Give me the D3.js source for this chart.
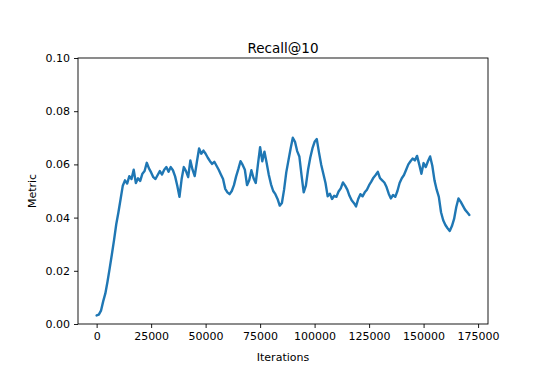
<!DOCTYPE html>
<html lang="en">

<head>
  <meta charset="UTF-8">
  <title>Recall@10</title>
  <script src="https://cdnjs.cloudflare.com/ajax/libs/d3/7.8.5/d3.min.js"></script>
  <style type="text/css">
    body {
      margin: 0;
      background: white;
    }

    text {
      font-family: "DejaVu Sans", sans-serif;
      fill: #000;
    }
  </style>
</head>

<body>
  <script type="text/javascript">
    // data: metric logged every 1000 iterations
    var step = 1000
    var metric = [
      0.0032, 0.0035, 0.0050, 0.0085, 0.0115, 0.0160, 0.0210, 0.0262, 0.0316, 0.0375,
      0.0420, 0.0470, 0.0520, 0.0540, 0.0528, 0.0556, 0.0545, 0.0580, 0.0530, 0.0548,
      0.0538, 0.0565, 0.0575, 0.0606, 0.0585, 0.0570, 0.0552, 0.0545, 0.0560, 0.0575,
      0.0562, 0.0580, 0.0590, 0.0572, 0.0590, 0.0578, 0.0555, 0.0520, 0.0478, 0.0545,
      0.0590, 0.0575, 0.0552, 0.0615, 0.0580, 0.0556, 0.0610, 0.0660, 0.0640, 0.0652,
      0.0640, 0.0625, 0.0612, 0.0602, 0.0610, 0.0595, 0.0580, 0.0562, 0.0545, 0.0508,
      0.0495, 0.0488, 0.0500, 0.0522, 0.0555, 0.0582, 0.0612, 0.0598, 0.0580, 0.0522,
      0.0540, 0.0578, 0.0548, 0.0530, 0.0600, 0.0665, 0.0612, 0.0648, 0.0605, 0.0560,
      0.0525, 0.0500, 0.0488, 0.0470, 0.0445, 0.0455, 0.0505, 0.0570, 0.0615, 0.0660,
      0.0700, 0.0685, 0.0650, 0.0630, 0.0560, 0.0495, 0.0520, 0.0580, 0.0625, 0.0660,
      0.0685, 0.0695, 0.0645, 0.0600, 0.0565, 0.0530, 0.0480, 0.0490, 0.0470, 0.0482,
      0.0478, 0.0498, 0.0510, 0.0532, 0.0520, 0.0505, 0.0482, 0.0465, 0.0455, 0.0442,
      0.0470, 0.0488, 0.0480, 0.0495, 0.0505, 0.0522, 0.0535, 0.0550, 0.0560, 0.0572,
      0.0548, 0.0540, 0.0532, 0.0515, 0.0490, 0.0472, 0.0485, 0.0478, 0.0500, 0.0530,
      0.0548, 0.0560, 0.0580, 0.0600, 0.0612, 0.0622, 0.0615, 0.0632, 0.0600, 0.0565,
      0.0605, 0.0590, 0.0612, 0.0630, 0.0595, 0.0540, 0.0505, 0.0478, 0.0420, 0.0390,
      0.0372, 0.0360, 0.0350, 0.0368, 0.0395, 0.0440, 0.0472, 0.0460, 0.0445, 0.0430,
      0.0420, 0.0410
    ]
    var xTicks = [0, 25000, 50000, 75000, 100000, 125000, 150000, 175000]
    var yTicks = [0.00, 0.02, 0.04, 0.06, 0.08, 0.10]

    var points = metric.map(function (d, i) { return { it: i * step, v: d } })

    // size and plot box
    var w = 545
    var h = 390
    var boxLeft = 78, boxRight = 488, boxTop = 58, boxBottom = 324

    var xMax = d3.max(points, function (d) { return d.it })
    var xPad = xMax * 0.05
    var xScale = d3.scaleLinear().domain([-xPad, xMax + xPad]).range([boxLeft, boxRight])
    var yScale = d3.scaleLinear().domain([0, 0.1]).range([boxBottom, boxTop])

    var svg = d3.select('body').append('svg').attr('width', w).attr('height', h)

    // line
    var line = d3.line()
      .x(function (d) { return xScale(d.it) })
      .y(function (d) { return yScale(d.v) })

    svg.append('path').datum(points)
      .attr('d', line)
      .attr('fill', 'none')
      .attr('stroke', '#1f77b4')
      .attr('stroke-width', 2.4)
      .attr('stroke-linejoin', 'round')
      .attr('stroke-linecap', 'round')

    // axes
    var xAxis = d3.axisBottom(xScale).tickValues(xTicks).tickFormat(d3.format('d'))
      .tickSize(4).tickPadding(4).tickSizeOuter(0)
    var yAxis = d3.axisLeft(yScale).tickValues(yTicks).tickFormat(d3.format('.2f'))
      .tickSize(4).tickPadding(4).tickSizeOuter(0)

    var gx = svg.append('g').attr('transform', 'translate(0,' + boxBottom + ')').call(xAxis)
    var gy = svg.append('g').attr('transform', 'translate(' + boxLeft + ',0)').call(yAxis)
    gx.select('.domain').remove()
    gy.select('.domain').remove()
    svg.selectAll('.tick line').attr('stroke', '#000').attr('stroke-width', 0.9)
    svg.selectAll('.tick text').attr('font-size', '11px').attr('font-family', 'DejaVu Sans').attr('fill', '#000')

    // frame
    svg.append('rect')
      .attr('x', boxLeft).attr('y', boxTop)
      .attr('width', boxRight - boxLeft).attr('height', boxBottom - boxTop)
      .attr('fill', 'none').attr('stroke', '#000').attr('stroke-width', 0.9)

    // labels
    svg.append('text').text('Recall@10')
      .attr('x', (boxLeft + boxRight) / 2).attr('y', 53)
      .attr('text-anchor', 'middle').attr('font-size', '13.5px')

    svg.append('text').text('Iterations')
      .attr('x', (boxLeft + boxRight) / 2).attr('y', 361)
      .attr('text-anchor', 'middle').attr('font-size', '11px')

    svg.append('text').text('Metric')
      .attr('transform', 'translate(36,' + (boxTop + boxBottom) / 2 + ') rotate(-90)')
      .attr('text-anchor', 'middle').attr('font-size', '11px')
  </script>
</body>

</html>
